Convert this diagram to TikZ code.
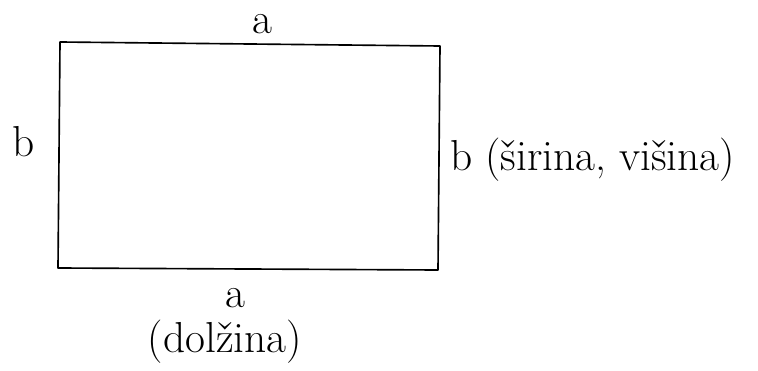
\documentclass[tikz,border=0pt]{standalone}
\usepackage{fontspec}
\usetikzlibrary{positioning}
\tikzset{
  sideln/.style={line width=1.4pt, line cap=round, line join=round},
  lab/.style={font=\fontsize{37}{42}\selectfont, inner sep=0pt},
}
\begin{document}
\begin{tikzpicture}[x=0.03cm,y=-0.03cm]
  \useasboundingbox (0,0) rectangle (758,371);
  % corners of the rectangle
  \coordinate (tl) at (60,42);
  \coordinate (tr) at (440,46);
  \coordinate (br) at (438,270);
  \coordinate (bl) at (58,268);
  \draw[sideln] (tl) -- (tr) -- (br) -- (bl) -- cycle;
  % side labels
  \node[lab] (atop) at (262,24) {a};
  \node[lab] (bleft) at (24,142) {b};
  \node[lab, anchor=west] (bright) at (450,160) {b (širina, višina)};
  \node[lab] (abot) at (235,298) {a};
  \node[lab] (dolz) at (225,342) {(dolžina)};
\end{tikzpicture}
\end{document}
